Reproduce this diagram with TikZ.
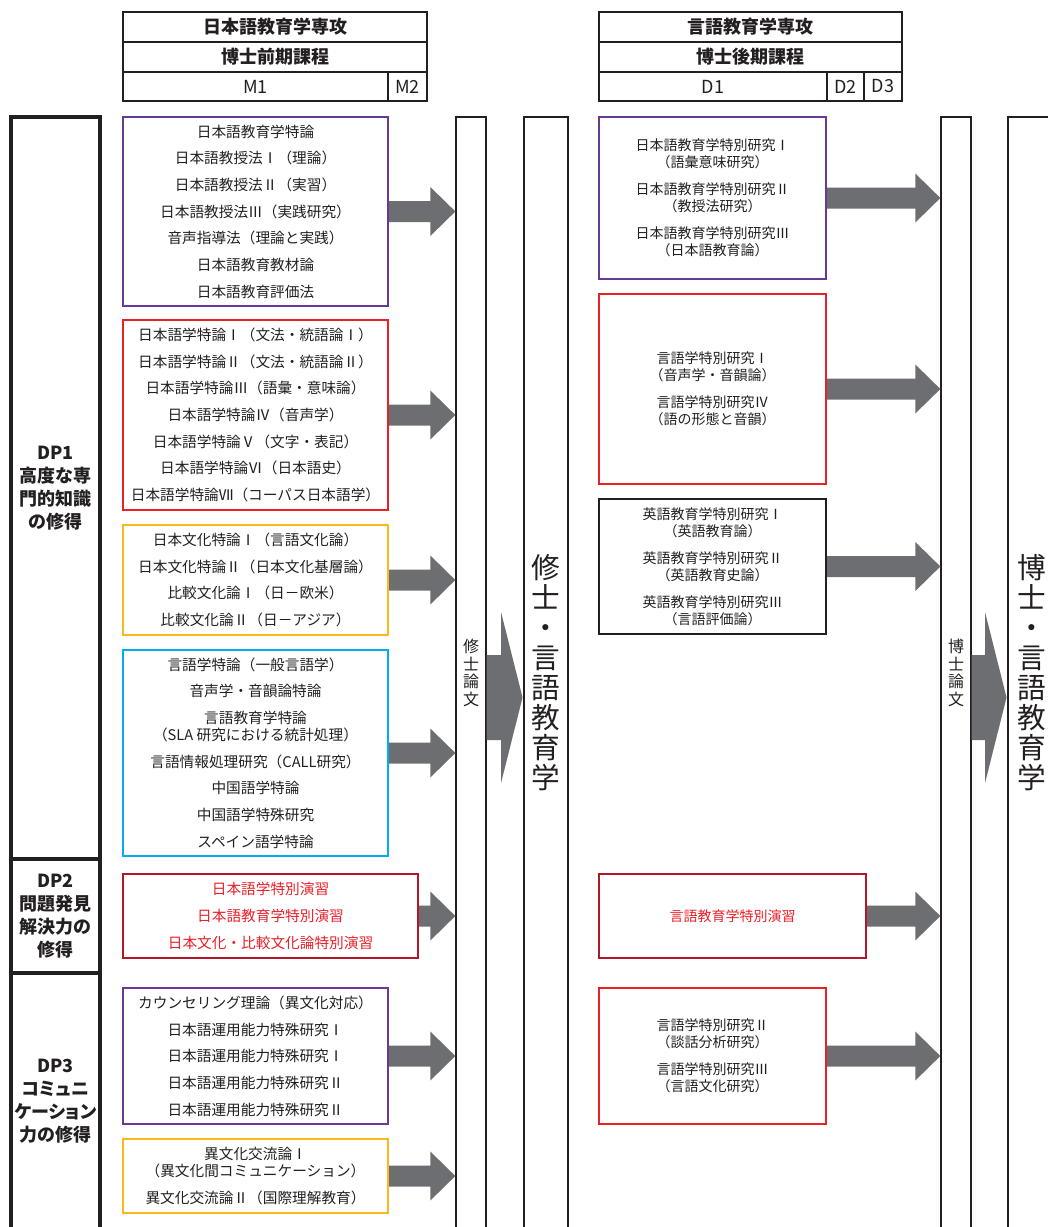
\documentclass[tikz,border=0pt]{standalone}
\usepackage{fontspec}
\setmainfont{Noto Sans CJK JP}
\newfontfamily\dpfont[RawFeature=+palt]{Noto Sans CJK JP}
\usepackage{tikz}
\usetikzlibrary{fit,calc}

\definecolor{inkgray}{RGB}{35,31,32}
\definecolor{arrowgray}{RGB}{109,110,113}
\definecolor{kpurple}{RGB}{102,57,150}
\definecolor{kred}{RGB}{232,32,40}
\definecolor{kyellow}{RGB}{252,183,30}
\definecolor{kcyan}{RGB}{0,174,239}
\definecolor{kdarkred}{RGB}{176,24,42}
\definecolor{ktextred}{RGB}{234,30,40}

\tikzset{
  hcell/.style={draw=inkgray, line width=0.8pt, inner sep=0pt},
  dpcell/.style={draw=inkgray, line width=2.6pt, inner sep=0pt},
  mbox/.style={draw=#1, line width=1.5pt, inner sep=0pt},
  thesiscol/.style={draw=inkgray, line width=1pt, inner sep=0pt},
  degreecol/.style={draw=inkgray, line width=2.2pt, inner sep=0pt},
  htext/.style={inner sep=0pt, text=inkgray, font=\fontsize{13.5}{16}\selectfont\bfseries},
  ytext/.style={inner sep=0pt, text=inkgray, font=\fontsize{13.5}{16}\selectfont},
  dptext/.style={inner sep=0pt, align=center, text=inkgray, font=\dpfont\fontsize{13.5}{17.25}\selectfont\bfseries},
  ktext/.style={inner sep=0pt, align=center, text=inkgray, font=\fontsize{11}{20}\selectfont},
  dtext/.style={inner sep=0pt, align=center, text=inkgray, font=\fontsize{10.5}{20.25}\selectfont},
  thesistext/.style={inner sep=0pt, align=center, text=inkgray, font=\fontsize{12}{13.3}\selectfont},
  degreetext/.style={inner sep=0pt, align=center, text=inkgray, font=\fontsize{21.5}{22.5}\selectfont},
}

% block arrow from a course box to a thesis column
\newcommand{\coursearrow}[2]{%
  \fill[arrowgray] ($(#1.east)+(0,-10.5)$) -- ($(#1.east -| #2.west)+(-25,-10.5)$) -- ($(#1.east -| #2.west)+(-25,-24.5)$) -- (#1.east -| #2.west) -- ($(#1.east -| #2.west)+(-25,24.5)$) -- ($(#1.east -| #2.west)+(-25,10.5)$) -- ($(#1.east)+(0,10.5)$) -- cycle;}
% wide arrow from a thesis column to a degree column
\newcommand{\degreearrow}[2]{%
  \fill[arrowgray] (#1.east |- 0,655) -- ($(#2.west |- 0,655)+(-21.5,0)$) -- ($(#2.west |- 0,612)+(-21.5,0)$) -- (#2.west |- 0,697.5) -- ($(#2.west |- 0,783)+(-21.5,0)$) -- ($(#2.west |- 0,740)+(-21.5,0)$) -- (#1.east |- 0,740) -- cycle;}

\begin{document}
\begin{tikzpicture}[x=0.75pt,y=0.75pt,yscale=-1,xscale=1]
    \useasboundingbox (0,0) rectangle (1047,1227);

    % Header
    \node[hcell, fit={(123,12) (427,42)}] (lmajor) {};
    \node[hcell, fit={(123,42) (427,72)}] (lcourse) {};
    \node[hcell, fit={(123,72) (388,101)}] (ym1) {};
    \node[hcell, fit={(388,72) (427,101)}] (ym2) {};
    \node[hcell, fit={(599,12) (902,42)}] (rmajor) {};
    \node[hcell, fit={(599,42) (902,72)}] (rcourse) {};
    \node[hcell, fit={(599,72) (827,101)}] (yd1) {};
    \node[hcell, fit={(827,72) (864,101)}] (yd2) {};
    \node[hcell, fit={(864,72) (902,101)}] (yd3) {};
    % Text Node
    \node[htext] (lmajort) at (lmajor.center) {日本語教育学専攻};
    \node[htext] (lcourset) at (lcourse.center) {博士前期課程};
    \node[ytext] (ym1t) at (ym1.center) {M1};
    \node[ytext] (ym2t) at (ym2.center) {M2};
    \node[htext] (rmajort) at (rmajor.center) {言語教育学専攻};
    \node[htext] (rcourset) at (rcourse.center) {博士後期課程};
    \node[ytext] (yd1t) at (yd1.center) {D1};
    \node[ytext] (yd2t) at (yd2.center) {D2};
    \node[ytext] (yd3t) at (yd3.center) {D3};

    % DP column
    \node[dpcell, fit={(11,117) (100,859)}] (dp1) {};
    \node[dpcell, fit={(11,859) (100,973)}] (dp2) {};
    \node[dpcell, fit={(11,973) (100,1229)}] (dp3) {};
    \node[dptext] (dp1t) at (dp1.center) {DP1\\高度な専\\門的知識\\の修得};
    \node[dptext] (dp2t) at (dp2.center) {DP2\\問題発見\\解決力の\\修得};
    \node[dptext] (dp3t) at (dp3.center) {DP3\\コミュニ\\ケーション\\力の修得};

    %Shape: Rectangle (M1 courses)
    \node[mbox=kpurple, fit={(123,117) (388,306)}] (k1) {};
    \node[mbox=kred, fit={(123,320) (388,510)}] (k2) {};
    \node[mbox=kyellow, fit={(123,525) (388,635)}] (k3) {};
    \node[mbox=kcyan, fit={(123,650) (388,856)}] (k4) {};
    \node[mbox=kdarkred, fit={(123,874) (418,958)}] (k5) {};
    \node[mbox=kpurple, fit={(123,988) (388,1124)}] (k6) {};
    \node[mbox=kyellow, fit={(123,1139) (388,1213)}] (k7) {};
    % Text Node
    \node[ktext] (k1t) at (k1.center) {日本語教育学特論\\日本語教授法Ⅰ（理論）\\日本語教授法Ⅱ（実習）\\日本語教授法Ⅲ（実践研究）\\音声指導法（理論と実践）\\日本語教育教材論\\日本語教育評価法};
    \node[ktext] (k2t) at (k2.center) {日本語学特論Ⅰ（文法・統語論Ⅰ）\\日本語学特論Ⅱ（文法・統語論Ⅱ）\\日本語学特論Ⅲ（語彙・意味論）\\日本語学特論Ⅳ（音声学）\\日本語学特論Ⅴ（文字・表記）\\日本語学特論Ⅵ（日本語史）\\日本語学特論Ⅶ（コーパス日本語学）};
    \node[ktext] (k3t) at (k3.center) {日本文化特論Ⅰ（言語文化論）\\日本文化特論Ⅱ（日本文化基層論）\\比較文化論Ⅰ（日－欧米）\\比較文化論Ⅱ（日－アジア）};
    \node[ktext] (k4t) at (k4.center) {言語学特論（一般言語学）\\音声学・音韻論特論\\言語教育学特論\\[-7.25pt]（SLA 研究における統計処理）\\言語情報処理研究（CALL研究）\\中国語学特論\\中国語学特殊研究\\スペイン語学特論};
    \node[ktext, text=ktextred] (k5t) at (k5.center) {日本語学特別演習\\日本語教育学特別演習\\日本文化・比較文化論特別演習};
    \node[ktext] (k6t) at (k6.center) {カウンセリング理論（異文化対応）\\日本語運用能力特殊研究Ⅰ\\日本語運用能力特殊研究Ⅰ\\日本語運用能力特殊研究Ⅱ\\日本語運用能力特殊研究Ⅱ};
    \node[ktext] (k7t) at (k7.center) {異文化交流論Ⅰ\\[-7.25pt]（異文化間コミュニケーション）\\異文化交流論Ⅱ（国際理解教育）};

    % Thesis and degree columns
    \node[thesiscol, fit={(456,117) (486,1229)}] (mthesis) {};
    \node[degreecol, fit={(524,117) (568,1229)}] (mcol) {};
    \node[thesiscol, fit={(941,117) (971,1229)}] (dthesis) {};
    \node[degreecol, fit={(1008,117) (1056,1229)}] (dcol) {};
    \node[thesistext] (mthesist) at (mthesis.center) {修\\士\\論\\文};
    \node[degreetext] (mcolt) at (mcol.center) {修\\士\\・\\言\\語\\教\\育\\学};
    \node[thesistext] (dthesist) at (dthesis.center) {博\\士\\論\\文};
    \node[degreetext] (dcolt) at (dcol.center) {博\\士\\・\\言\\語\\教\\育\\学};

    %Shape: Rectangle (D1 courses)
    \node[mbox=kpurple, fit={(599,117) (826,279)}] (r1) {};
    \node[mbox=kred, fit={(599,294) (826,484)}] (r2) {};
    \node[mbox=inkgray, fit={(599,499) (826,634)}] (r3) {};
    \node[mbox=kdarkred, fit={(599,874) (866,958)}] (r4) {};
    \node[mbox=kred, fit={(599,988) (826,1124)}] (r5) {};
    % Text Node
    \node[dtext] (r1t) at (r1.center) {日本語教育学特別研究Ⅰ\\[-7.5pt]（語彙意味研究）\\日本語教育学特別研究Ⅱ\\[-7.5pt]（教授法研究）\\日本語教育学特別研究Ⅲ\\[-7.5pt]（日本語教育論）};
    \node[dtext] (r2t) at (r2.center) {言語学特別研究Ⅰ\\[-7.5pt]（音声学・音韻論）\\言語学特別研究Ⅳ\\[-7.5pt]（語の形態と音韻）};
    \node[dtext] (r3t) at (r3.center) {英語教育学特別研究Ⅰ\\[-7.5pt]（英語教育論）\\英語教育学特別研究Ⅱ\\[-7.5pt]（英語教育史論）\\英語教育学特別研究Ⅲ\\[-7.5pt]（言語評価論）};
    \node[dtext, text=ktextred] (r4t) at (r4.center) {言語教育学特別演習};
    \node[dtext] (r5t) at (r5.center) {言語学特別研究Ⅱ\\[-7.5pt]（談話分析研究）\\言語学特別研究Ⅲ\\[-7.5pt]（言語文化研究）};

    %Arrows
    \foreach \k in {k1,k2,k3,k4,k5,k6,k7} {\coursearrow{\k}{mthesis}}
    \foreach \r in {r1,r2,r3,r4,r5} {\coursearrow{\r}{dthesis}}
    \degreearrow{mthesis}{mcol}
    \degreearrow{dthesis}{dcol}

\end{tikzpicture}
\end{document}
